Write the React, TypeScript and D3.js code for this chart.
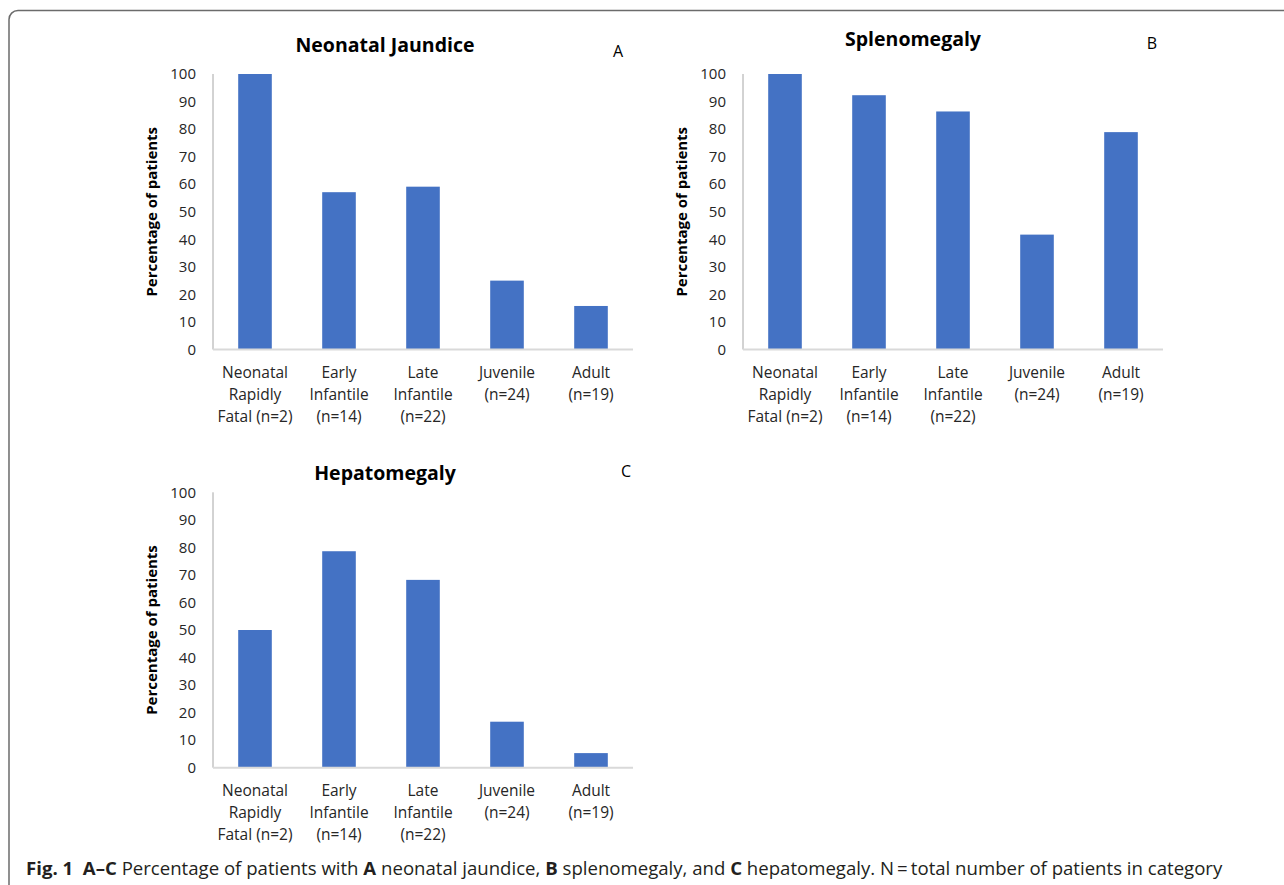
import React, { useRef, useEffect } from "react";
import * as d3 from "d3";

const categories = [
  ["Neonatal", "Rapidly", "Fatal (n=2)"],
  ["Early", "Infantile", "(n=14)"],
  ["Late", "Infantile", "(n=22)"],
  ["Juvenile", "(n=24)"],
  ["Adult", "(n=19)"],
];
const categoryKeys = ["neonatal", "early", "late", "juvenile", "adult"];

const jaundiceValues = [100, 57.1, 59.1, 25.0, 15.8];
const splenomegalyValues = [100, 92.3, 86.4, 41.7, 78.9];
const hepatomegalyValues = [50.0, 78.6, 68.2, 16.7, 5.3];

const yTicks = [0, 10, 20, 30, 40, 50, 60, 70, 80, 90, 100];

const panels = [
  { title: "Neonatal Jaundice", letter: "A", values: jaundiceValues, x0: 213, top: 74, bottom: 349.5, titleX: 385, titleY: 52, letterX: 618, letterY: 57 },
  { title: "Splenomegaly", letter: "B", values: splenomegalyValues, x0: 743, top: 74, bottom: 349.5, titleX: 913, titleY: 46, letterX: 1152, letterY: 49 },
  { title: "Hepatomegaly", letter: "C", values: hepatomegalyValues, x0: 213, top: 492.3, bottom: 767.7, titleX: 385, titleY: 480, letterX: 626, letterY: 477 },
];

const FONT = "'Open Sans', sans-serif";

const App: React.FC = () => {
  const ref = useRef<SVGSVGElement>(null);

  useEffect(() => {
    if (!ref.current) return;
    const svg = d3.select(ref.current);
    svg.selectAll("*").remove();

    // figure frame
    svg
      .append("rect")
      .attr("x", 9)
      .attr("y", 10.5)
      .attr("width", 1300)
      .attr("height", 885)
      .attr("rx", 9)
      .attr("fill", "none")
      .attr("stroke", "#6b6b6b")
      .attr("stroke-width", 1.5);

    panels.forEach((p) => {
      const g = svg.append("g");
      const x = d3
        .scaleBand<string>()
        .domain(categoryKeys)
        .range([p.x0, p.x0 + 420])
        .paddingInner(0.6)
        .paddingOuter(0.3);
      const y = d3.scaleLinear().domain([0, 100]).range([p.bottom, p.top]);

      // bars
      g.selectAll(".bar")
        .data(p.values)
        .enter()
        .append("rect")
        .attr("x", (_, i) => x(categoryKeys[i]) || 0)
        .attr("y", (d) => y(d))
        .attr("width", x.bandwidth())
        .attr("height", (d) => y(0) - y(d))
        .attr("fill", "#4472c4");

      // axes lines
      g.append("line")
        .attr("x1", p.x0)
        .attr("x2", p.x0)
        .attr("y1", y(100))
        .attr("y2", y(0))
        .attr("stroke", "#a6a6a6")
        .attr("stroke-width", 1);
      g.append("line")
        .attr("x1", p.x0)
        .attr("x2", p.x0 + 420)
        .attr("y1", y(0))
        .attr("y2", y(0))
        .attr("stroke", "#d9d9d9")
        .attr("stroke-width", 2);

      // y tick labels
      g.selectAll(".ytick")
        .data(yTicks)
        .enter()
        .append("text")
        .attr("x", p.x0 - 17)
        .attr("y", (d) => y(d))
        .attr("dy", "0.35em")
        .attr("text-anchor", "end")
        .attr("font-family", FONT)
        .attr("font-size", 15)
        .attr("fill", "#262626")
        .text((d) => d);

      // category labels
      categories.forEach((lines, i) => {
        const cx = (x(categoryKeys[i]) || 0) + x.bandwidth() / 2;
        const t = g
          .append("text")
          .attr("text-anchor", "middle")
          .attr("font-family", FONT)
          .attr("font-size", 15.5)
          .attr("fill", "#262626");
        lines.forEach((line, j) => {
          t.append("tspan")
            .attr("x", cx)
            .attr("y", y(0) + 28.5 + j * 22)
            .text(line);
        });
      });

      // y axis title
      const cy = (p.top + p.bottom) / 2;
      g.append("text")
        .attr("transform", `translate(${p.x0 - 61},${cy}) rotate(-90)`)
        .attr("dy", "0.35em")
        .attr("text-anchor", "middle")
        .attr("font-family", FONT)
        .attr("font-weight", "bold")
        .attr("font-size", 15)
        .attr("fill", "#000")
        .text("Percentage of patients");

      // chart title + letter
      g.append("text")
        .attr("x", p.titleX)
        .attr("y", p.titleY)
        .attr("text-anchor", "middle")
        .attr("font-family", FONT)
        .attr("font-weight", "bold")
        .attr("font-size", 19.5)
        .attr("fill", "#000")
        .text(p.title);
      g.append("text")
        .attr("x", p.letterX)
        .attr("y", p.letterY)
        .attr("text-anchor", "middle")
        .attr("font-family", FONT)
        .attr("font-size", 16)
        .attr("fill", "#000")
        .text(p.letter);
    });

    // caption
    const cap = svg
      .append("text")
      .attr("x", 26)
      .attr("y", 875)
      .attr("font-family", FONT)
      .attr("font-size", 18.6)
      .attr("fill", "#231f20");
    const parts: [string, boolean][] = [
      ["Fig. 1", true],
      ["\u00a0\u00a0A\u2013C", true],
      [" Percentage of patients with ", false],
      ["A", true],
      [" neonatal jaundice, ", false],
      ["B", true],
      [" splenomegaly, and ", false],
      ["C", true],
      [" hepatomegaly. N\u2009=\u2009total number of patients in category", false],
    ];
    parts.forEach(([s, b]) => {
      cap.append("tspan").attr("font-weight", b ? "bold" : "normal").text(s);
    });
  }, []);

  return (
    <svg
      ref={ref}
      width={1284}
      height={885}
      style={{ position: "absolute", left: 0, top: 0, background: "#fff" }}
    ></svg>
  );
};

export default App;
